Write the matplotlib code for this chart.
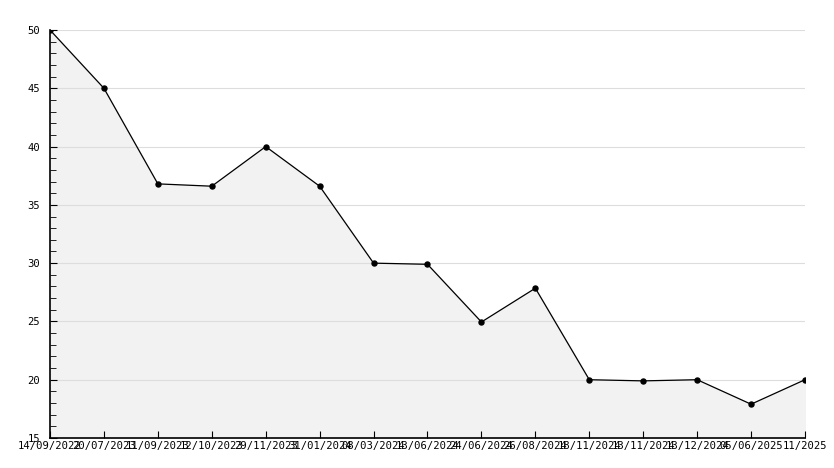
import matplotlib
matplotlib.use("Agg")
import matplotlib.pyplot as plt
from matplotlib.ticker import MultipleLocator

dates = ["14/09/2022", "20/07/2023", "11/09/2023", "12/10/2023", "29/11/2023",
         "31/01/2024", "08/03/2024", "13/06/2024", "24/06/2024", "26/08/2024",
         "18/11/2024", "13/11/2024", "13/12/2024", "05/06/2025", "11/2025"]
values = [50, 45, 36.8, 36.6, 40, 36.6, 30, 29.9, 24.95, 27.85,
          20, 19.9, 20, 17.9, 20]

plt.rcParams['font.family'] = ['DejaVu Sans Mono']
plt.rcParams['font.size'] = 7.6

fig = plt.figure(figsize=(8.34, 4.68), dpi=100)
ax = fig.add_axes([50 / 834, 30 / 468, 755 / 834, 408 / 468])

x = list(range(len(values)))
ax.fill_between(x, values, 15, color="#f2f2f2", zorder=1)
ax.plot(x, values, color="black", lw=0.9, marker="o", markersize=3.6, zorder=3)

ax.set_xlim(0, len(values) - 1)
ax.set_ylim(15, 50)
ax.yaxis.set_major_locator(MultipleLocator(5))
ax.yaxis.set_minor_locator(MultipleLocator(1))
ax.set_xticks(x)
ax.set_xticklabels(dates)
ax.grid(axis="y", which="major", color="#dddddd", lw=0.8, zorder=0)

for s in ["top", "right"]:
    ax.spines[s].set_visible(False)
for s in ["left", "bottom"]:
    ax.spines[s].set_linewidth(1.2)
    ax.spines[s].set_zorder(4)

ax.tick_params(axis="y", which="major", direction="in", length=5, pad=7)
ax.tick_params(axis="y", which="minor", direction="in", length=4)
ax.tick_params(axis="x", direction="in", length=5, pad=2)

fig.savefig("out.png", dpi=100)
